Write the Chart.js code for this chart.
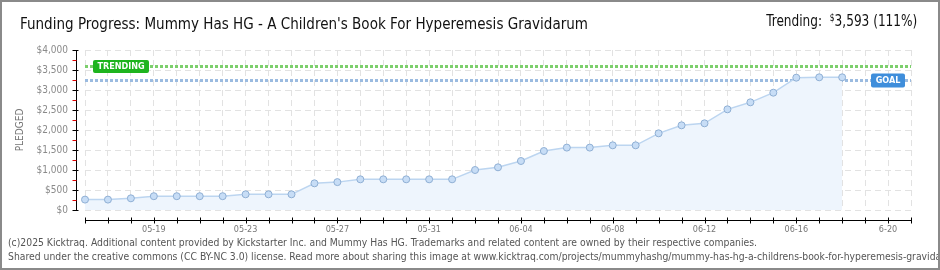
<!DOCTYPE html>
<html>
<head>
<meta charset="utf-8">
<script src="https://cdn.jsdelivr.net/npm/chart.js@4.4.1/dist/chart.umd.min.js"></script>
<style>
  body { margin: 0; background: #fff; }
  #wrap { position: relative; width: 940px; height: 270px; overflow: hidden;
          font-family: 'DejaVu Sans Condensed', 'DejaVu Sans', sans-serif; background: #fff; }
  #c { position: absolute; left: 0; top: 0; }
  .txt { position: absolute; white-space: nowrap; line-height: 1; }
  #title { left: 20px; top: 17px; font-size: 15px; color: #111; transform-origin: 0 0; }
  #trend { right: 23px; top: 13px; font-size: 16px; color: #111; transform-origin: 100% 0; }
  #trend sup { font-size: 10px; vertical-align: 5px; }
  .foot { left: 8px; font-size: 11px; color: #555; transform-origin: 0 0; }
  #foot1 { top: 237px; }
  #foot2 { top: 251px; }
  #frame { position: absolute; left: 0; top: 0; right: 0; bottom: 0; border: 2px solid #8a8a8a; pointer-events: none; }
</style>
</head>
<body>
<div id="wrap">
  <canvas id="c" width="940" height="270"></canvas>
  <div id="title" class="txt">Funding Progress: Mummy Has HG - A Children's Book For Hyperemesis Gravidarum</div>
  <div id="trend" class="txt">Trending:&nbsp; <sup>$</sup>3,593 (111%)</div>
  <div id="foot1" class="txt foot">(c)2025 Kicktraq. Additional content provided by Kickstarter Inc. and Mummy Has HG. Trademarks and related content are owned by their respective companies.</div>
  <div id="foot2" class="txt foot">Shared under the creative commons (CC BY-NC 3.0) license. Read more about sharing this image at www.kicktraq.com/projects/mummyhashg/mummy-has-hg-a-childrens-book-for-hyperemesis-gravidarum/</div>
  <div id="frame"></div>
</div>
<script>
const days = ['05-16','05-17','05-18','05-19','05-20','05-21','05-22','05-23','05-24','05-25',
              '05-26','05-27','05-28','05-29','05-30','05-31','06-01','06-02','06-03','06-04',
              '06-05','06-06','06-07','06-08','06-09','06-10','06-11','06-12','06-13','06-14',
              '06-15','06-16','06-17','06-18','06-19','06-20','06-21'];
const pledged = [260, 260, 292, 345, 345, 345, 345, 392, 392, 392,
                 667, 697, 767, 767, 767, 767, 767, 1000, 1067, 1225,
                 1475, 1560, 1560, 1617, 1617, 1917, 2117, 2167, 2517, 2692,
                 2933, 3308, 3317, 3317];
const xTickLabels = ['05-19','05-23','05-27','05-31','06-04','06-08','06-12','06-16','6-20'];
const yTickLabels = ['$0','$500','$1,000','$1,500','$2,000','$2,500','$3,000','$3,500','$4,000'];
const goal = 3240;
const trending = 3593;

const font = "'DejaVu Sans Condensed', 'DejaVu Sans', sans-serif";

function tag(ctx, text, cx, cy, w, h, fill, align) {
  const x = align === 'right' ? cx - w : cx;
  ctx.fillStyle = fill;
  ctx.beginPath();
  ctx.roundRect(x, cy - h / 2, w, h, 2);
  ctx.fill();
  ctx.fillStyle = '#fff';
  ctx.font = 'bold 9px ' + font;
  ctx.textAlign = 'center';
  ctx.textBaseline = 'middle';
  ctx.fillText(text, x + w / 2, cy + 0.5);
}

const refLines = {
  id: 'refLines',
  beforeDatasetsDraw(chart) {
    const { ctx, chartArea: a, scales: { y } } = chart;
    ctx.save();
    ctx.lineWidth = 3;
    ctx.setLineDash([3, 2]);
    const ty = Math.round(y.getPixelForValue(trending)) + 0.5;
    ctx.strokeStyle = '#7ccf6c';
    ctx.beginPath(); ctx.moveTo(a.left, ty); ctx.lineTo(a.right, ty); ctx.stroke();
    const gy = Math.round(y.getPixelForValue(goal)) + 0.5;
    ctx.strokeStyle = '#9bbbe0';
    ctx.beginPath(); ctx.moveTo(a.left, gy); ctx.lineTo(a.right, gy); ctx.stroke();
    ctx.setLineDash([]);
    tag(ctx, 'TRENDING', a.left + 8, ty, 56, 13, '#1eb41e', 'left');
    tag(ctx, 'GOAL', a.right - 6, gy, 34, 14, '#3f8edb', 'right');
    ctx.restore();
  }
};

const offsetAxes = {
  id: 'offsetAxes',
  afterDraw(chart) {
    const { ctx, chartArea: a, scales: { x, y } } = chart;
    ctx.save();
    ctx.lineWidth = 1;
    const ax = Math.round(a.left) - 8.5;
    ctx.strokeStyle = '#000';
    ctx.beginPath(); ctx.moveTo(ax, a.top); ctx.lineTo(ax, a.bottom + 1); ctx.stroke();
    y.ticks.forEach(t => {
      const py = Math.round(y.getPixelForValue(t.value)) + 0.5;
      const major = t.value % 500 === 0;
      ctx.strokeStyle = major ? '#000' : '#e00000';
      ctx.beginPath(); ctx.moveTo(ax - 4, py); ctx.lineTo(major ? ax + 2 : ax, py); ctx.stroke();
    });
    const ay = Math.round(a.bottom) + 10.5;
    ctx.strokeStyle = '#000';
    ctx.beginPath(); ctx.moveTo(a.left, ay); ctx.lineTo(a.right + 1, ay); ctx.stroke();
    x.ticks.forEach((t, i) => {
      const px = Math.round(x.getPixelForTick(i)) + 0.5;
      ctx.beginPath(); ctx.moveTo(px, ay - 3); ctx.lineTo(px, ay + 3); ctx.stroke();
    });
    ctx.restore();
  }
};

new Chart(document.getElementById('c'), {
  type: 'line',
  data: {
    labels: days,
    datasets: [{
      data: pledged,
      borderColor: '#bcd5f0',
      borderWidth: 1.5,
      backgroundColor: '#eef5fd',
      fill: 'origin',
      pointRadius: 3.5,
      pointBackgroundColor: '#c7ddf6',
      pointBorderColor: '#8fafd4',
      pointBorderWidth: 1,
      tension: 0
    }]
  },
  options: {
    responsive: false,
    animation: false,
    devicePixelRatio: 1,
    layout: { padding: { left: 0, top: 50, right: 29, bottom: 0 } },
    plugins: { legend: { display: false }, tooltip: { enabled: false } },
    scales: {
      x: {
        afterFit(s) { s.height = 60; },
        grid: { color: '#e2e2e2', drawTicks: false },
        border: { display: false, dash: [6, 4] },
        ticks: {
          autoSkip: false, maxRotation: 0, padding: 14,
          color: '#777', font: { size: 9, family: font },
          callback(v, i) { return (i - 3) % 4 === 0 && i >= 3 ? (xTickLabels[(i - 3) / 4] || '') : ''; }
        }
      },
      y: {
        min: 0, max: 4000,
        afterFit(s) { s.width = 85; },
        grid: {
          drawTicks: false,
          color: c => (c.tick && c.tick.value % 500 === 0) ? '#e2e2e2' : 'rgba(0,0,0,0)'
        },
        border: { display: false, dash: [6, 4] },
        title: { display: true, text: 'PLEDGED', color: '#777', font: { size: 10, family: font }, padding: { top: 14, bottom: 0 } },
        ticks: {
          stepSize: 250, padding: 17, autoSkip: false,
          color: '#8a8a8a', font: { size: 10, family: font },
          callback(v) { return v % 500 === 0 ? yTickLabels[v / 500] : ''; }
        }
      }
    }
  },
  plugins: [refLines, offsetAxes]
});

function fit(id, width) {
  const el = document.getElementById(id);
  const w = el.getBoundingClientRect().width;
  const k = width / w;
  el.style.transform = 'scaleX(' + k + ')';
  return k;
}
fit('title', 568);
fit('trend', 151);
const k = fit('foot1', 749);
document.getElementById('foot2').style.transform = 'scaleX(' + k + ')';
</script>
</body>
</html>
